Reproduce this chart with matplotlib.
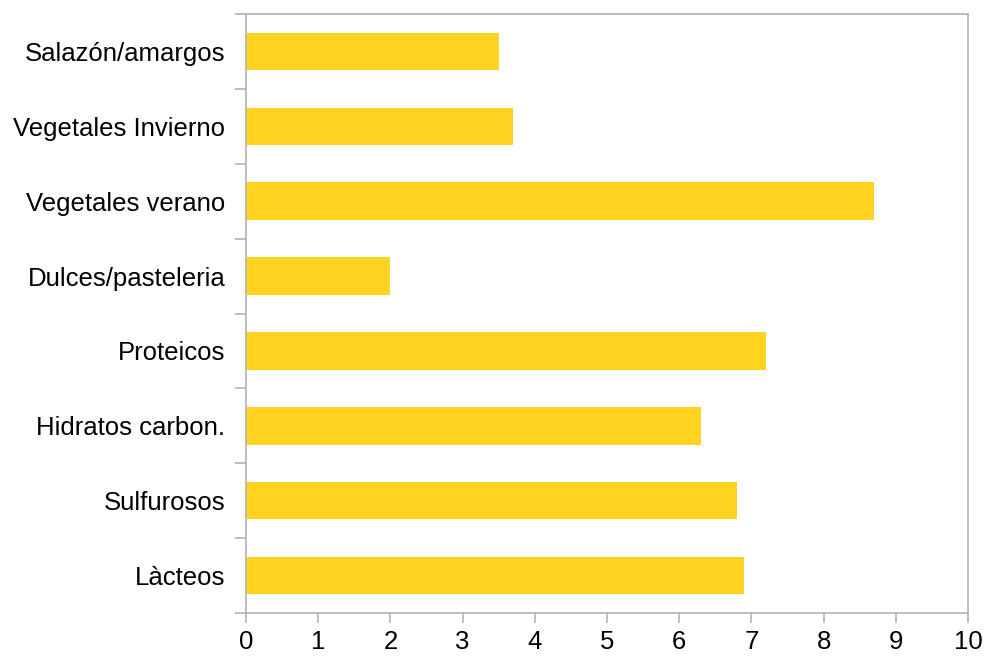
import numpy as np
import matplotlib.pyplot as plt

categories = ["Làcteos", "Sulfurosos", "Hidratos carbon.", "Proteicos",
              "Dulces/pasteleria", "Vegetales verano", "Vegetales Invierno",
              "Salazón/amargos"]
values = [6.9, 6.8, 6.3, 7.2, 2.0, 8.7, 3.7, 3.5]
xticks = list(range(0, 11))

plt.rcParams["font.family"] = ["Liberation Sans", "DejaVu Sans"]
grey = "#b3b3b3"

fig = plt.figure(figsize=(9.86, 6.56), dpi=100)
ax = fig.add_axes([246 / 986, 1 - 613 / 656, (968 - 246) / 986, (613 - 14) / 656])

y = np.arange(len(categories))
ax.barh(y, values, height=0.5, color="#ffd320")

ax.set_xlim(0, 10)
ax.set_ylim(-0.5, len(categories) - 0.5)
ax.set_xticks(xticks)
ax.set_yticks(y)
ax.set_yticklabels(categories)
ax.set_yticks(np.arange(len(categories) + 1) - 0.5, minor=True)

for s in ax.spines.values():
    s.set_color(grey)
    s.set_linewidth(1.2)

ax.tick_params(axis="y", which="major", length=0, pad=15, labelsize=18.5)
ax.tick_params(axis="y", which="minor", length=8, width=1.2, color=grey)
ax.tick_params(axis="x", length=7, width=1.2, color=grey, pad=5, labelsize=18.5)

fig.savefig("out.png", dpi=100)
